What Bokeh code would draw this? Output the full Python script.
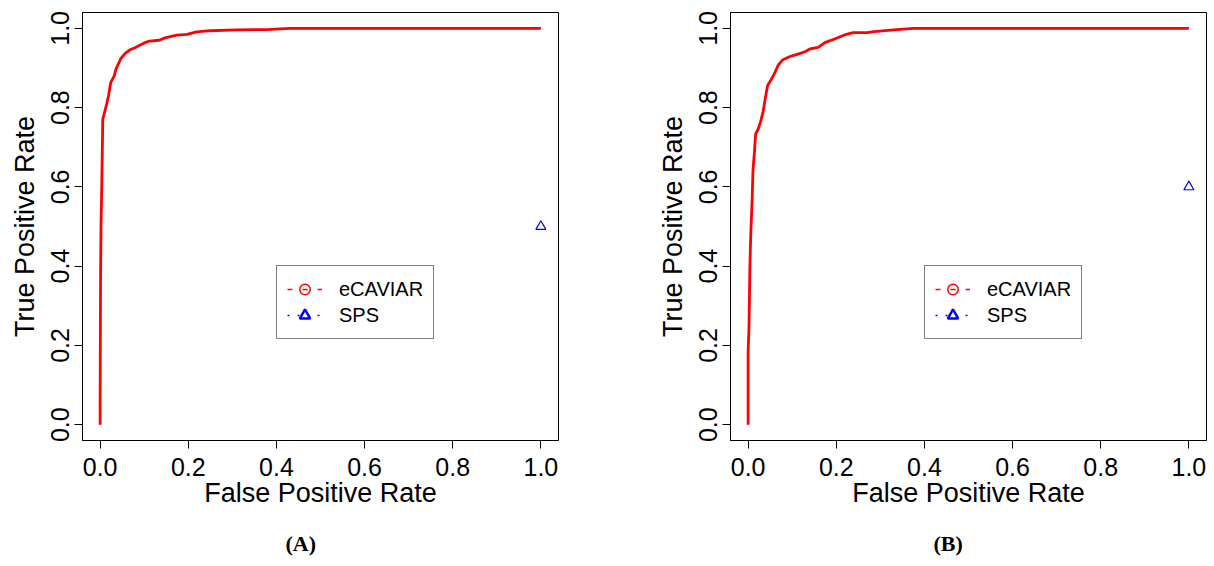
from bokeh.plotting import figure
from bokeh.layouts import row
from bokeh.models import (Range1d, FixedTicker, NumeralTickFormatter, Legend,
                          LegendItem, Title, ColumnDataSource)
from bokeh.embed import file_html
from bokeh.resources import INLINE
import numpy as np

# ---- data ----
ticks = [0.0, 0.2, 0.4, 0.6, 0.8, 1.0]

a_fpr = [0, 0, 0.001, 0.002, 0.004, 0.006, 0.015, 0.019, 0.024, 0.032, 0.036,
         0.047, 0.057, 0.068, 0.079, 0.091, 0.102, 0.112, 0.134, 0.147, 0.159,
         0.174, 0.197, 0.219, 0.249, 0.31, 0.378, 0.43, 1.0]
a_tpr = [0, 0.054, 0.38, 0.50, 0.62, 0.77, 0.81, 0.83, 0.863, 0.88, 0.897,
         0.924, 0.937, 0.946, 0.951, 0.958, 0.964, 0.968, 0.970, 0.976, 0.979,
         0.983, 0.985, 0.991, 0.994, 0.996, 0.997, 1.0, 1.0]
a_sps_fpr = [1.0]
a_sps_tpr = [0.5]

b_fpr = [0, 0, 0.002, 0.004, 0.006, 0.009, 0.011, 0.014, 0.017, 0.023, 0.029,
         0.034, 0.038, 0.044, 0.053, 0.061, 0.068, 0.079, 0.095, 0.113, 0.129,
         0.140, 0.159, 0.174, 0.196, 0.223, 0.238, 0.27, 0.285, 0.33, 0.375, 1.0]
b_tpr = [0, 0.187, 0.246, 0.397, 0.481, 0.565, 0.641, 0.683, 0.733, 0.746, 0.767,
         0.79, 0.817, 0.855, 0.872, 0.889, 0.907, 0.921, 0.929, 0.935, 0.941,
         0.948, 0.952, 0.964, 0.973, 0.985, 0.989, 0.989, 0.992, 0.996, 1.0, 1.0]
b_sps_fpr = [1.0]
b_sps_tpr = [0.6]

series_names = ["eCAVIAR", "SPS"]
captions = ["(A)", "(B)"]
x_title = "False Positive Rate"
y_title = "True Positive Rate"

FONT = "Liberation Sans"
RED = "#ff0000"
BLUE = "#0000ff"


def make_panel(fpr, tpr, sps_x, sps_y, caption, left_border, right_border):
    p = figure(width=left_border + 476 + right_border, height=566,
               output_backend="svg", toolbar_location=None,
               x_range=Range1d(-0.04, 1.04), y_range=Range1d(-0.04, 1.04),
               min_border_left=left_border, min_border_right=right_border,
               min_border_top=12, min_border_bottom=126,
               background_fill_color="white", border_fill_color="white")
    p.frame_width = 476
    p.frame_height = 428
    p.grid.visible = False
    p.outline_line_color = "black"
    p.outline_line_width = 1
    p.outline_line_alpha = 1

    for ax in (p.xaxis[0], p.yaxis[0]):
        ax.ticker = FixedTicker(ticks=ticks)
        ax.formatter = NumeralTickFormatter(format="0.0")
        ax.axis_line_color = "black"
        ax.major_tick_line_color = "black"
        ax.major_tick_out = 8
        ax.major_tick_in = 0
        ax.minor_tick_line_color = None
        ax.major_label_text_font = FONT
        ax.major_label_text_font_size = "25px"
        ax.major_label_text_color = "black"
        ax.axis_label_text_font = FONT
        ax.axis_label_text_font_size = "27px"
        ax.axis_label_text_font_style = "normal"
        ax.axis_label_text_color = "black"
    p.xaxis.axis_label = x_title
    p.yaxis.axis_label = y_title
    p.xaxis.major_label_standoff = 9
    p.xaxis.axis_label_standoff = -1
    p.yaxis.major_label_standoff = 5
    p.yaxis.axis_label_standoff = 9
    p.yaxis.major_label_orientation = "vertical"

    p.line(fpr, tpr, line_color=RED, line_width=2.8)
    p.scatter(sps_x, sps_y, marker="triangle", size=10, fill_color=None,
              line_color=BLUE, line_width=1.2)

    # legend glyph renderers (styles only, no visible data)
    nan = [np.nan]
    src = ColumnDataSource(dict(x=nan, y=nan))
    l1 = p.line("x", "y", source=src, line_color=RED, line_width=1.3, line_dash="5 10")
    s1 = p.scatter("x", "y", source=src, marker="circle", fill_color=None,
                   line_color=RED, line_width=1.5, size=8)
    l2 = p.line("x", "y", source=src, line_color=BLUE, line_width=1.5, line_dash="2 8")
    s2 = p.scatter("x", "y", source=src, marker="triangle", fill_color=None,
                   line_color=BLUE, line_width=2.5, size=10)
    legend = Legend(items=[LegendItem(label=series_names[0], renderers=[l1, s1]),
                           LegendItem(label=series_names[1], renderers=[l2, s2])],
                    location=(194, 101), margin=0, padding=10, spacing=0,
                    glyph_width=35, glyph_height=26, label_height=26,
                    label_standoff=17,
                    label_text_font=FONT, label_text_font_size="20px",
                    label_text_color="black",
                    border_line_color="black", border_line_width=1,
                    background_fill_color="white", background_fill_alpha=1)
    p.add_layout(legend, "center")

    p.add_layout(Title(text=caption, align="left", offset=203, standoff=36,
                       text_font="Liberation Serif", text_font_style="bold",
                       text_font_size="22px", text_color="black"), "below")
    return p


pA = make_panel(a_fpr, a_tpr, a_sps_fpr, a_sps_tpr, captions[0], 82, 90)
pB = make_panel(b_fpr, b_tpr, b_sps_fpr, b_sps_tpr, captions[1], 82, 8)

layout = row(pA, pB)
open("out.html", "w").write(file_html(layout, INLINE))
